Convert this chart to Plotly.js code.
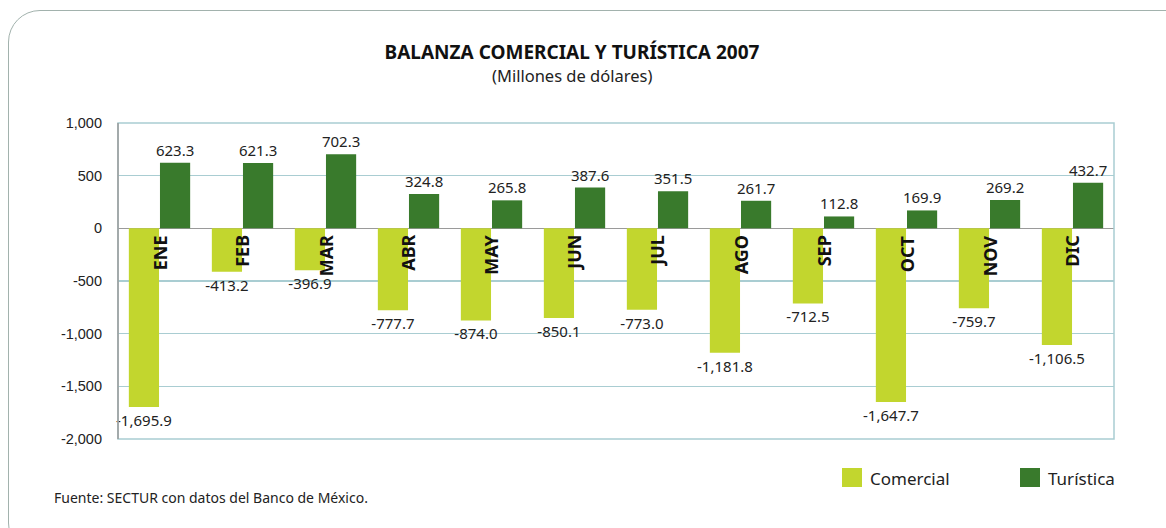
<!DOCTYPE html>
<html>
<head>
<meta charset="utf-8">
<script src="https://cdn.plot.ly/plotly-3.0.1.min.js"></script>
<style>
  html, body { margin:0; padding:0; background:#fff; overflow:hidden; }
  #wrap { position:relative; width:1166px; height:528px; }
  #chart { position:absolute; left:0; top:0; width:1166px; height:528px; }
  #frame { position:absolute; left:8px; top:10px; width:1190px; height:545px;
           border:1.5px solid #a2b2ad; border-radius:32px; pointer-events:none; box-sizing:border-box; }
</style>
</head>
<body>
<div id="wrap">
  <div id="chart"></div>
  <div id="frame"></div>
</div>
<script>
const months = ["ENE","FEB","MAR","ABR","MAY","JUN","JUL","AGO","SEP","OCT","NOV","DIC"];
const comercial = [-1695.9, -413.2, -396.9, -777.7, -874.0, -850.1, -773.0, -1181.8, -712.5, -1647.7, -759.7, -1106.5];
const turistica = [623.3, 621.3, 702.3, 324.8, 265.8, 387.6, 351.5, 261.7, 112.8, 169.9, 269.2, 432.7];
const tickVals = [1000, 500, 0, -500, -1000, -1500, -2000];
const tickText = ["1,000", "500", "0", "-500", "-1,000", "-1,500", "-2,000"];

const colCom = "#c2d62e";
const colTur = "#397a2c";
const labelFont = "Noto Sans, Open Sans, sans-serif";

function fmt(v) {
  const s = Math.abs(v).toFixed(1).split(".");
  const intPart = s[0].replace(/\B(?=(\d{3})+(?!\d))/g, ",");
  return (v < 0 ? "-" : "") + intPart + "." + s[1];
}

const traces = [
  {
    type: "bar", name: "Comercial", x: months, y: comercial,
    marker: { color: colCom },
    text: comercial.map(fmt), textposition: "outside", constraintext: "none",
    textfont: { family: labelFont, size: 15, color: "#222" },
    cliponaxis: false, showlegend: false, hoverinfo: "x+y"
  },
  {
    type: "bar", name: "Turística", x: months, y: turistica,
    marker: { color: colTur },
    text: turistica.map(fmt), textposition: "outside", constraintext: "none",
    textfont: { family: labelFont, size: 15, color: "#222" },
    cliponaxis: false, showlegend: false, hoverinfo: "x+y"
  }
];

// paper coordinate helpers based on plot area (l=118, r=1114, t=123, b=439)
const px = x => (x - 118) / 996;
const py = y => (439 - y) / 316;

const annotations = months.map(m => ({
  x: m, y: 0, xref: "x", yref: "y", text: "<b>" + m + "</b>", textangle: -90,
  showarrow: false, xanchor: "center", yanchor: "top", yshift: -5,
  font: { family: labelFont, size: 18, color: "#111" }
}));

annotations.push(
  { xref: "paper", yref: "paper", x: px(572), y: py(75), text: "(Millones de dólares)",
    showarrow: false, xanchor: "center", yanchor: "middle",
    font: { family: labelFont, size: 16.5, color: "#222" } },
  { xref: "paper", yref: "paper", x: px(868), y: py(478), text: "Comercial",
    showarrow: false, xanchor: "left", yanchor: "middle",
    font: { family: labelFont, size: 17, color: "#222" } },
  { xref: "paper", yref: "paper", x: px(1046), y: py(478), text: "Turística",
    showarrow: false, xanchor: "left", yanchor: "middle",
    font: { family: labelFont, size: 17, color: "#222" } },
  { xref: "paper", yref: "paper", x: px(52), y: py(497), text: "Fuente: SECTUR con datos del Banco de México.",
    showarrow: false, xanchor: "left", yanchor: "middle",
    font: { family: labelFont, size: 14, color: "#222" } }
);

const shapes = [
  { type: "rect", xref: "paper", yref: "paper", x0: 0, x1: 1, y0: 0, y1: 1,
    line: { color: "#a9cdd2", width: 1.5 }, layer: "above" },
  { type: "line", xref: "paper", yref: "paper", x0: 0, x1: 0, y0: 0, y1: 1,
    line: { color: "#9a9a9a", width: 1.5 }, layer: "above" },
  { type: "rect", xref: "paper", yref: "paper", x0: px(842), x1: px(862), y0: py(487), y1: py(468),
    fillcolor: colCom, line: { width: 0 } },
  { type: "rect", xref: "paper", yref: "paper", x0: px(1020), x1: px(1040), y0: py(487), y1: py(468),
    fillcolor: colTur, line: { width: 0 } }
];

const layout = {
  width: 1166, height: 528,
  margin: { l: 118, r: 52, t: 123, b: 89, pad: 0 },
  paper_bgcolor: "#fff", plot_bgcolor: "#fff",
  title: { text: "<b>BALANZA COMERCIAL Y TURÍSTICA 2007</b>", x: 572 / 1166, xanchor: "center",
           y: 1 - 52 / 528, yanchor: "middle", yref: "container",
           font: { family: labelFont, size: 19, color: "#111" } },
  barmode: "group", bargap: 0.25, bargroupgap: 0.03,
  showlegend: false,
  xaxis: { showticklabels: false, ticks: "", showgrid: false, zeroline: false, showline: false, fixedrange: true },
  yaxis: {
    range: [-2000, 1000], tickvals: tickVals, ticktext: tickText,
    showgrid: true, gridcolor: "#a9cdd2", gridwidth: 1.3,
    zeroline: true, zerolinecolor: "#9a9a9a", zerolinewidth: 1.5,
    showline: false, ticks: "", ticklabelstandoff: 15,
    tickfont: { family: "Liberation Sans, Arial, sans-serif", size: 14.5, color: "#222" },
    fixedrange: true
  },
  annotations: annotations,
  shapes: shapes
};

Plotly.newPlot("chart", traces, layout, { displayModeBar: false, staticPlot: true });
</script>
</body>
</html>
